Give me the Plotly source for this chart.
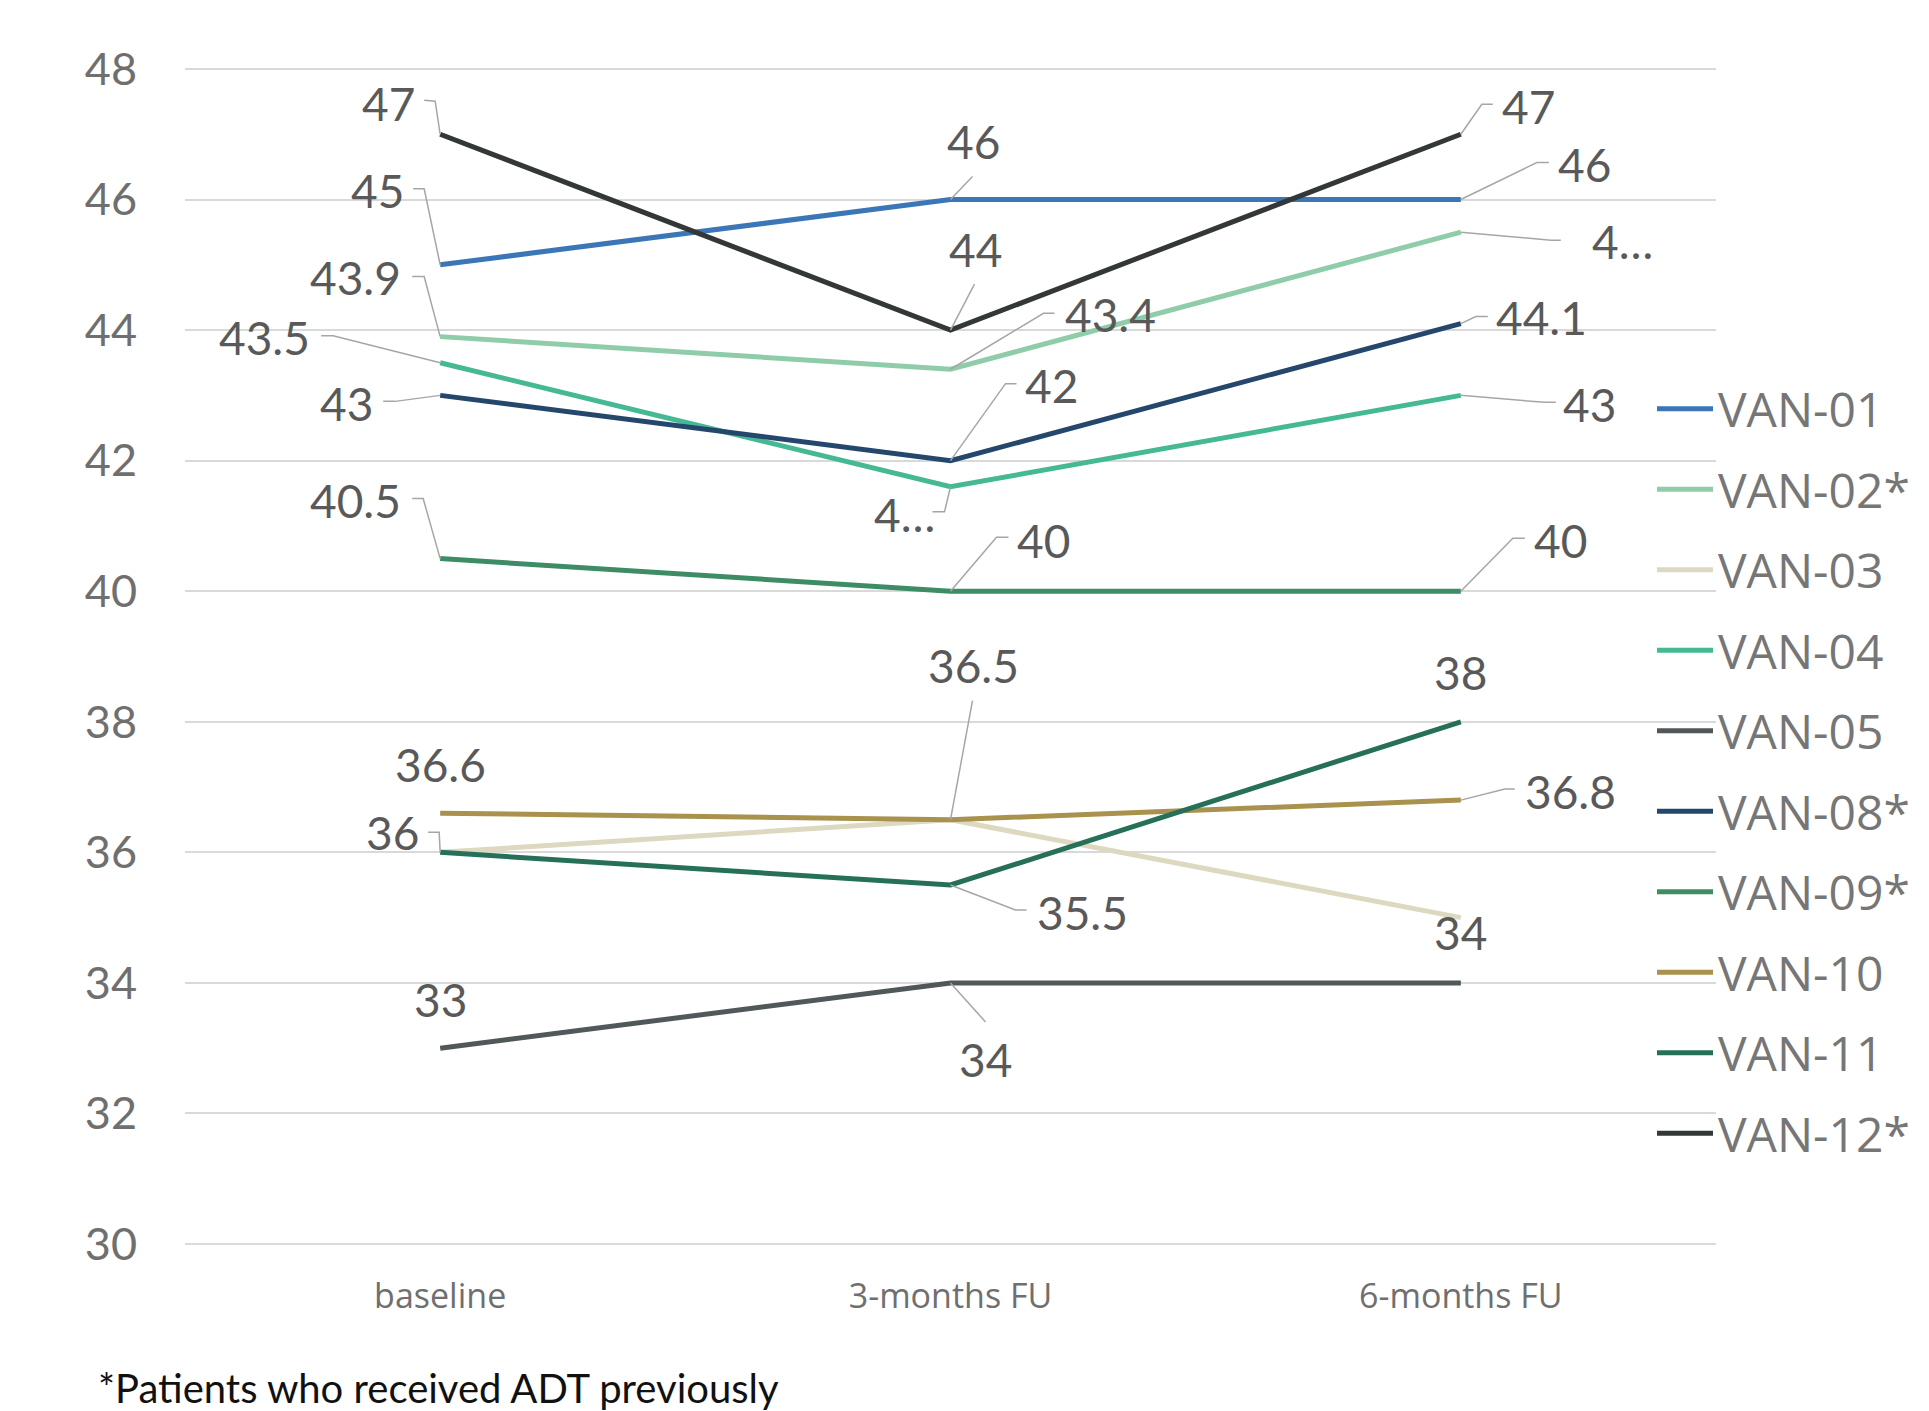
import plotly.graph_objects as go

# ---- data -------------------------------------------------------------
categories = ["baseline", "3-months FU", "6-months FU"]

patients = ["VAN-01", "VAN-02*", "VAN-03", "VAN-04", "VAN-05",
            "VAN-08*", "VAN-09*", "VAN-10", "VAN-11", "VAN-12*"]

van01 = [45, 46, 46]
van02 = [43.9, 43.4, 45.5]
van03 = [36, 36.5, 35]
van04 = [43.5, 41.6, 43]
van05 = [33, 34, 34]
van08 = [43, 42, 44.1]
van09 = [40.5, 40, 40]
van10 = [36.6, 36.5, 36.8]
van11 = [36, 35.5, 38]
van12 = [47, 44, 47]

series = [van01, van02, van03, van04, van05, van08, van09, van10, van11, van12]

y_ticks = [30, 32, 34, 36, 38, 40, 42, 44, 46, 48]

footnote = "*Patients who received ADT previously"

# ---- styling ----------------------------------------------------------
colors = ["#3B76B6", "#8FCCA9", "#DDD8C0", "#45B894", "#50585A",
          "#24476B", "#3E8C65", "#A8924E", "#26705A", "#333737"]

# label placement: (patient, point index) -> (dx, dy, leader elbow points)
# offsets in screen pixels (dy positive = downwards)
label_layout = {
    ("VAN-12*", 0): (-52, -31, [(-5, -33), (-16, -34)]),
    ("VAN-01", 0): (-63, -74, [(-16, -76), (-27, -76)]),
    ("VAN-02*", 0): (-85, -59, [(-16, -60), (-28, -60)]),
    ("VAN-04", 0): (-176, -25, [(-107, -27), (-119, -27)]),
    ("VAN-08*", 0): (-94, 8, [(-45, 6), (-57, 6)]),
    ("VAN-09*", 0): (-85, -58, [(-17, -60), (-28, -60)]),
    ("VAN-10", 0): (0, -49, []),
    ("VAN-11", 0): (-48, -20, [(-1, -20), (-12, -20)]),
    ("VAN-05", 0): (0, -49, []),

    ("VAN-01", 1): (23, -58, [(22, -23)]),
    ("VAN-12*", 1): (25, -81, [(24, -46)]),
    ("VAN-02*", 1): (160, -55, [(93, -56), (104, -56)]),
    ("VAN-08*", 1): (101, -75, [(55, -77), (66, -77)]),
    ("VAN-04", 1): (-46, 28, [(-6, 25), (-18, 25)]),
    ("VAN-09*", 1): (93, -51, [(46, -54), (58, -54)]),
    ("VAN-10", 1): (23, -154, [(22, -119)]),
    ("VAN-11", 1): (132, 28, [(65, 25), (76, 25)]),
    ("VAN-05", 1): (35, 77, [(35, 39)]),

    ("VAN-12*", 2): (68, -28, [(21, -30), (32, -30)]),
    ("VAN-01", 2): (124, -35, [(76, -37), (88, -37)]),
    ("VAN-02*", 2): (162, 9, [(90, 8), (100, 8)]),
    ("VAN-08*", 2): (81, -6, [(15, -7), (27, -7)]),
    ("VAN-04", 2): (129, 9, [(84, 7), (95, 7)]),
    ("VAN-09*", 2): (100, -51, [(52, -53), (64, -53)]),
    ("VAN-11", 2): (0, -49, []),
    ("VAN-10", 2): (110, -9, [(44, -11), (54, -11)]),
    ("VAN-05", 2): (0, -50, []),
}
# labels that do not fit their box are cut short
clipped = {("VAN-02*", 2), ("VAN-04", 1)}


def fmt(v):
    return f"{v:g}"


fig = go.Figure()
x_pos = list(range(len(categories)))

for name, vals, col in zip(patients, series, colors):
    fig.add_trace(go.Scatter(
        x=x_pos, y=vals, mode="lines", name=name, legendgroup=name,
        line=dict(color=col, width=5),
        hoverinfo="skip",
    ))

annotations = []
shapes = []
for name, vals in zip(patients, series):
    for i, v in enumerate(vals):
        key = (name, i)
        if key not in label_layout:
            continue
        dx, dy, leader = label_layout[key]
        txt = fmt(v)
        if key in clipped:
            txt = txt[0] + "…"
        annotations.append(dict(
            x=i, y=v, xref="x", yref="y", text=txt, showarrow=False,
            xshift=dx, yshift=-dy, xanchor="center", yanchor="middle",
            font=dict(family="Lato", size=46, color="#595959"),
        ))
        if leader:
            path = "M0,0 " + " ".join(f"L{px},{-py}" for px, py in leader)
            shapes.append(dict(
                type="path", path=path, xref="x", yref="y",
                xsizemode="pixel", ysizemode="pixel", xanchor=i, yanchor=v,
                line=dict(color="#A6A6A6", width=1.5),
            ))

# page geometry (pixels)
W, H = 1929, 1411
y_lo, y_hi = 29.97, 48.03          # small pad so the edge gridlines are drawn
px_per_unit = 65.28
T = round(69 - (y_hi - 48) * px_per_unit)
B = round(H - (1244 + (30 - y_lo) * px_per_unit))
L, R = 185, 213
pw, ph = W - L - R, H - T - B

annotations.append(dict(
    x=(96 - L) / pw, y=(H - B - 1388) / ph, xref="paper", yref="paper",
    text=footnote, showarrow=False, xanchor="left", yanchor="middle",
    font=dict(family="Lato", size=40, color="#111111"),
))

fig.update_layout(
    width=W, height=H,
    margin=dict(l=L, r=R, t=T, b=B, autoexpand=False),
    paper_bgcolor="white", plot_bgcolor="white",
    showlegend=True,
    legend=dict(
        x=(1652 - L) / pw, xanchor="left",
        y=(H - B - 371) / ph, yanchor="top",
        font=dict(family="Open Sans", size=48, color="#767676"),
        bgcolor="rgba(0,0,0,0)", borderwidth=0,
        tracegroupgap=15.1, itemwidth=56,
    ),
    xaxis=dict(
        range=[-0.5, 2.5], tickvals=x_pos, ticktext=categories,
        showgrid=False, zeroline=False, showline=False,
        tickfont=dict(family="Open Sans", size=34, color="#6F6F6F"),
        ticklabelstandoff=27,
    ),
    yaxis=dict(
        range=[y_lo, y_hi], tickvals=y_ticks,
        showgrid=True, gridcolor="#D9D9D9", gridwidth=2,
        zeroline=False, showline=False,
        tickfont=dict(family="Lato", size=45, color="#6F6F6F"),
        ticklabelstandoff=47,
    ),
    annotations=annotations,
    shapes=shapes,
)

fig.write_html("out.html")
